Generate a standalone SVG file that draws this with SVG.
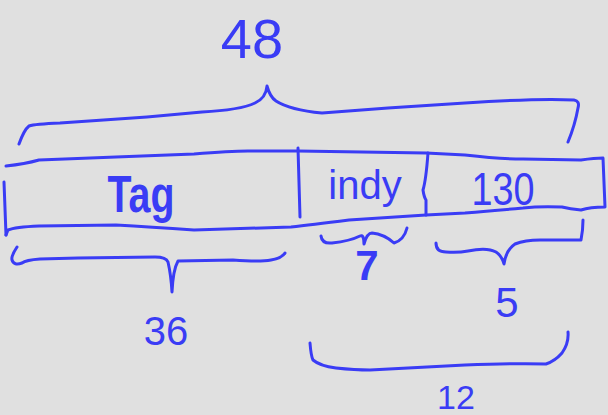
<svg xmlns="http://www.w3.org/2000/svg" width="608" height="415" viewBox="0 0 608 415">
<style>
.ink{fill:none;stroke:#3a3cf5;stroke-width:3;stroke-linecap:round;stroke-linejoin:round}
.t{fill:#3a3cf5;font-family:"Liberation Sans","DejaVu Sans",sans-serif;text-anchor:middle}
</style>
<rect width="608" height="415" fill="#e0e0e0"/>
<g id="total">
<path class="ink" d="M19,144 Q24,130 29,126 Q35,124 60,123 L147,117 Q180,114 202,112 Q240,110 255,103 Q266,98 267,86 Q270,97 276,101 Q290,110 322,113 L388,108 L465,103 Q540,98 574,100 Q580,101 578,108 Q575,125 568,142"/>
<text class="t" x="252" y="58" font-size="56">48</text>
</g>
<g id="record">
<path class="ink" d="M6,166 Q25,164 39,160 L116,157 L194,154 Q230,151 248,151 L298,151 L426,153 L465,155 Q500,159 523,159 L581,160 Q595,158 603,158 Q604,185 605,207 Q590,207 581,210 Q570,209 562,207 Q540,206 523,208 Q490,211 465,213 L426,215 L349,220 Q310,225 291,227 L194,230 Q150,227 116,225 L39,226 Q15,227 8,230 L6,235"/>
<path class="ink" d="M4,182 L6,235"/>
</g>
<g id="tag">
<text class="t" x="141" y="212" font-size="52" font-weight="bold" textLength="67" lengthAdjust="spacingAndGlyphs">Tag</text>
</g>
<g id="indy">
<path class="ink" d="M298,148 L300,217"/>
<text class="t" x="365" y="199" font-size="40">indy</text>
</g>
<g id="bo">
<path class="ink" d="M428,153 Q426,180 423,190 Q424,197 426,200 L426,215"/>
<text class="t" x="503" y="205" font-size="46" textLength="63" lengthAdjust="spacingAndGlyphs">130</text>
</g>
<g id="connectors">
<path class="ink" d="M17,247 Q11,256 12,260 Q14,266 22,263 Q26,260 40,259 L78,258 L155,257 Q166,257 168,262 Q171,275 172,292 Q173,270 178,261 L233,260 Q260,262 271,260 Q282,258 285,253"/>
<path class="ink" d="M321,236 Q322,244 332,243 Q350,241 360,236 Q364,234 364,244 Q367,233 372,233 Q384,234 394,243 Q404,240 407,228"/>
<path class="ink" d="M436,243 Q436,252 446,252 Q458,253 468,251 Q487,247 496,252 Q502,256 504,264 Q506,250 515,244 Q525,240 540,240 L581,240 Q583,230 583,220"/>
<path class="ink" d="M310,343 Q311,356 313,360 Q320,366 336,368 Q355,370 370,370 L465,365 Q520,363 546,364 Q555,361 562,353 Q569,343 568,332"/>
</g>
<g id="labels">
<text class="t" x="166" y="345" font-size="40">36</text>
<text class="t" x="367" y="280" font-size="42" font-weight="bold">7</text>
<text class="t" x="507" y="317" font-size="42">5</text>
<text class="t" x="456" y="409" font-size="34">12</text>
</g>
</svg>
